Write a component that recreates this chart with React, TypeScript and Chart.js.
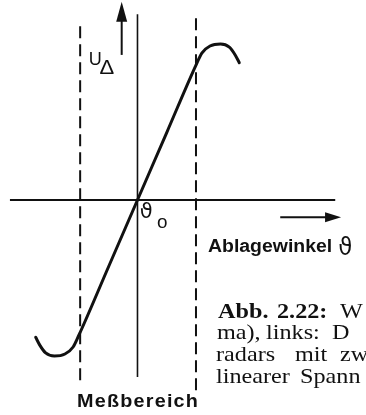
import React, { useEffect, useRef } from "react";
import { Chart, registerables } from "chart.js";

Chart.register(...registerables);

// Ablagewinkel ϑ, relative to the Meßbereich (edges at about ±1)
const theta = [-1.74, -1.67, -1.57, -1.42, -1.24, -1.1, -1.0, -0.5, 0, 0.5, 1.0, 1.1, 1.24, 1.42, 1.57, 1.67, 1.74];
// Differenzspannung U_Δ, normalised to its extreme value
const uDelta = [-0.88, -0.93, -0.98, -1.0, -0.987, -0.942, -0.865, -0.4325, 0, 0.4325, 0.865, 0.942, 0.987, 1.0, 0.98, 0.93, 0.88];

// Meßbereich boundaries (dashed) and their vertical extent
const rangeEdges = [-0.98, 1.0];
const rangeTop = [1.14, 1.19];
const rangeBottom = [-1.155, -1.22];

// Extent of the two axes
const thetaAxisSpan = [-2.18, 3.38];
const uAxisSpan = [-1.135, 1.19];

// Direction arrows beside the axes
const uArrowX = -0.27;
const uArrowSpan = [0.93, 1.27];
const thetaArrowY = -0.11;
const thetaArrowSpan = [2.44, 3.48];

// Visible window of the diagram
const thetaWindow = [-2.35, 3.906];
const uWindow = [-1.378, 1.282];

// Caption words, line by line (the paragraph continues past the right edge)
const captionLines = [
  ["Abb.", "2.22:", "W"],
  ["ma),", "links:", "D"],
  ["radars", "mit", "zw"],
  ["linearer", "Spann"],
];

const INK = "#111";

type Pt = { x: number; y: number };
const seg = (a: Pt, b: Pt) => [a, b];

const overlay = {
  id: "figureOverlay",
  afterDatasetsDraw(chart: any) {
    const { ctx, scales } = chart;
    const X = (v: number) => scales.x.getPixelForValue(v);
    const Y = (v: number) => scales.y.getPixelForValue(v);

    ctx.save();
    ctx.fillStyle = INK;

    // arrowheads
    const upTipX = X(uArrowX);
    const upTipY = Y(uArrowSpan[1]);
    ctx.beginPath();
    ctx.moveTo(upTipX, upTipY);
    ctx.lineTo(upTipX - 5.5, upTipY + 20);
    ctx.lineTo(upTipX + 5.5, upTipY + 20);
    ctx.closePath();
    ctx.fill();

    const rtTipX = X(thetaArrowSpan[1]);
    const rtTipY = Y(thetaArrowY);
    ctx.beginPath();
    ctx.moveTo(rtTipX, rtTipY);
    ctx.lineTo(rtTipX - 16, rtTipY - 5);
    ctx.lineTo(rtTipX - 16, rtTipY + 5);
    ctx.closePath();
    ctx.fill();

    const text = (s: string, x: number, y: number, font: string, sx = 1, spacing = 0) => {
      ctx.save();
      ctx.translate(x, y);
      ctx.scale(sx, 1);
      ctx.font = font;
      (ctx as any).letterSpacing = spacing + "px";
      ctx.textAlign = "left";
      ctx.textBaseline = "alphabetic";
      ctx.fillText(s, 0, 0);
      ctx.restore();
    };

    const sans = '"Liberation Sans", Arial, sans-serif';
    const greek = '"DejaVu Sans", sans-serif';
    const serif = '"Liberation Serif", "Times New Roman", serif';

    // axis labels
    text("U", X(-0.835), Y(0.865), `19px ${sans}`, 0.95);
    text("Δ", X(-0.65), Y(0.806), `21px ${sans}`, 1.05);
    text("ϑ", X(0.04), Y(-0.115), `22px ${greek}`, 0.95);
    text("o", X(0.335), Y(-0.18), `18px ${sans}`, 1.05);
    text("Ablagewinkel", X(1.205), Y(-0.333), `bold 18px ${sans}`, 1.08);
    text("ϑ", X(3.43), Y(-0.35), `24px ${greek}`, 0.95);
    text("Meßbereich", X(-1.034), Y(-1.327), `bold 18px ${sans}`, 1.1, 1.1);

    // caption
    const capLeft = X(1.376);
    const capBase = [Y(-0.756), Y(-0.891), Y(-1.032), Y(-1.173)];
    const wordOffsets = [
      [0, 59, 122],
      [-1, 48, 114],
      [-2, 77, 122],
      [-2, 82],
    ];
    captionLines.forEach((words, li) => {
      words.forEach((w, wi) => {
        const bold = li === 0 && wi < 2;
        text(w, capLeft + wordOffsets[li][wi], capBase[li], `${bold ? "bold " : ""}22px ${serif}`, 1.1);
      });
    });

    ctx.restore();
  },
};

export default function App() {
  const ref = useRef<HTMLCanvasElement | null>(null);

  useEffect(() => {
    document.body.style.margin = "0";
    if (!ref.current) return;

    const curve = theta.map((t, i) => ({ x: t, y: uDelta[i] }));
    const plain = (data: Pt[], width: number, dash: number[] = []) => ({
      data,
      borderColor: INK,
      borderWidth: width,
      borderDash: dash,
      pointRadius: 0,
      tension: 0,
    });

    const chart = new Chart(ref.current, {
      type: "line",
      data: {
        datasets: [
          {
            data: curve,
            borderColor: INK,
            borderWidth: 3,
            pointRadius: 0,
            cubicInterpolationMode: "monotone",
            borderCapStyle: "round",
          } as any,
          plain(seg({ x: thetaAxisSpan[0], y: 0 }, { x: thetaAxisSpan[1], y: 0 }), 2),
          plain(seg({ x: 0, y: uAxisSpan[0] }, { x: 0, y: uAxisSpan[1] }), 1.6),
          plain(seg({ x: rangeEdges[0], y: rangeBottom[0] }, { x: rangeEdges[0], y: rangeTop[0] }), 2, [12, 6]),
          plain(seg({ x: rangeEdges[1], y: rangeBottom[1] }, { x: rangeEdges[1], y: rangeTop[1] }), 2, [12, 6]),
          plain(seg({ x: uArrowX, y: uArrowSpan[0] }, { x: uArrowX, y: uArrowSpan[1] - 0.1 }), 2),
          plain(seg({ x: thetaArrowSpan[0], y: thetaArrowY }, { x: thetaArrowSpan[1] - 0.2, y: thetaArrowY }), 2),
        ],
      },
      options: {
        animation: false,
        responsive: false,
        layout: { padding: 0 },
        events: [],
        plugins: { legend: { display: false }, tooltip: { enabled: false } },
        scales: {
          x: { type: "linear", display: false, min: thetaWindow[0], max: thetaWindow[1] },
          y: { type: "linear", display: false, min: uWindow[0], max: uWindow[1] },
        },
      },
      plugins: [overlay],
    });

    return () => chart.destroy();
  }, []);

  return (
    <div style={{ position: "fixed", left: 0, top: 0, width: 366, height: 415, background: "#fff", overflow: "hidden" }}>
      <canvas ref={ref} width={366} height={415} />
    </div>
  );
}
